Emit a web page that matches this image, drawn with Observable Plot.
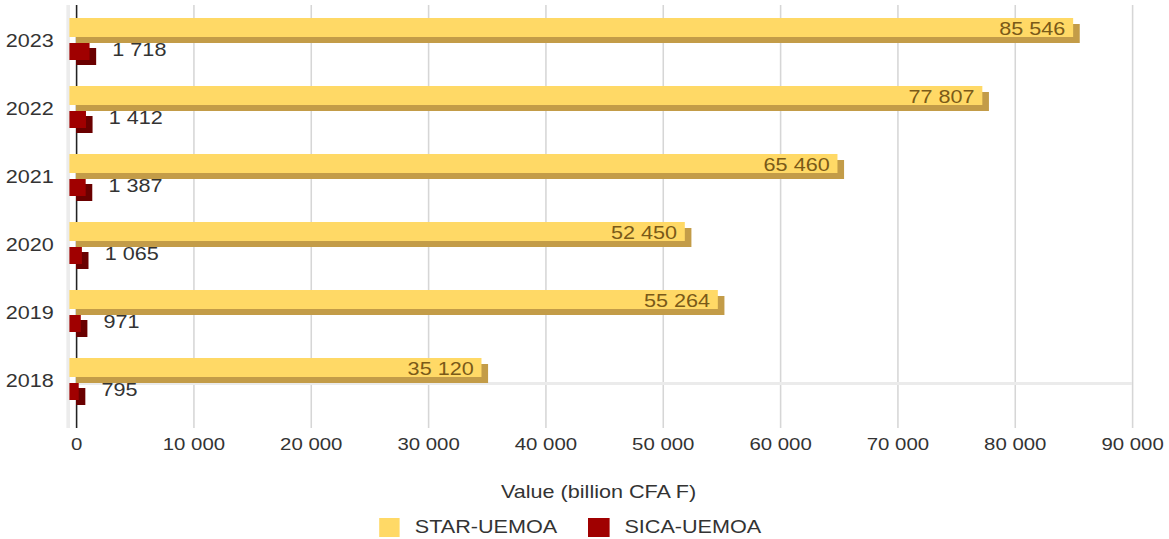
<!DOCTYPE html>
<html>
<head>
<meta charset="utf-8">
<script src="https://cdn.jsdelivr.net/npm/d3@7"></script>
<script src="https://cdn.jsdelivr.net/npm/@observablehq/plot@0.6"></script>
<style>
  html, body { margin: 0; padding: 0; background: #fff; }
  body { width: 1169px; height: 539px; overflow: hidden; font-family: "Liberation Sans", Arial, sans-serif; }
  #chart svg { display: block; }
  .legend { width: 974px; box-sizing: border-box; transform: scaleX(1.2); transform-origin: 0 0; display: flex; justify-content: center; align-items: center; height: 33px; padding-top: 11px; padding-right: 24px; font-size: 18px; color: #333; }
  .legend .item { display: flex; align-items: center; margin: 0 13px; }
  .legend .sw { width: 17.5px; height: 19px; margin-right: 12.5px; }
</style>
</head>
<body>
<div id="chart"></div>
<div class="legend" id="legend"></div>
<script>
const years = ["2023", "2022", "2021", "2020", "2019", "2018"];
const star = [85546, 77807, 65460, 52450, 55264, 35120];
const sica = [1718, 1412, 1387, 1065, 971, 795];
const xTicks = [0, 10000, 20000, 30000, 40000, 50000, 60000, 70000, 80000, 90000];
const seriesNames = ["STAR-UEMOA", "SICA-UEMOA"];
const seriesColors = ["#ffd966", "#a00000"];
const axisTitle = "Value (billion CFA F)";

const fmt = d3.formatLocale({decimal: ",", thousands: " ", grouping: [3], currency: ["", ""]}).format(",d");

const starRows = years.map((y, i) => ({year: y, value: star[i]}));
const sicaRows = years.map((y, i) => ({year: y, value: sica[i]}));

// The chart is laid out at a narrower width and stretched horizontally (1.2x), like the reference.
const stretch = 1.2;
const W = 1169, H = 505;
const innerW = W / stretch;

const plot = Plot.plot({
  width: innerW,
  height: H,
  marginLeft: 76 / stretch,
  marginRight: 37 / stretch,
  marginTop: 5,
  marginBottom: 77,
  style: {fontFamily: "Liberation Sans, Arial, sans-serif", color: "#333", background: "#fff"},
  x: {domain: [0, 90000]},
  y: {domain: years, range: [7, 415], padding: 0},
  marks: [
    Plot.ruleX([0], {dx: -7, stroke: "#ececec", strokeWidth: 3}),
    Plot.gridX(xTicks.slice(1), {stroke: "#d6d6d6", strokeWidth: 1.3, strokeOpacity: 1}),
    Plot.ruleY(["2018"], {dy: 2, stroke: "#ebebeb", strokeWidth: 3}),
    Plot.ruleX([0], {stroke: "#222", strokeWidth: 1.3}),
    // STAR shadow (3D depth)
    Plot.barX(starRows, {x1: 0, x2: "value", y: "year", insetTop: 17, insetBottom: 32, fill: "#c39c48"}),
    // STAR face
    Plot.barX(starRows, {x1: 0, x2: "value", y: "year", insetTop: 11, insetBottom: 38, dx: -5.5, fill: seriesColors[0]}),
    // SICA shadow
    Plot.barX(sicaRows, {x1: 0, x2: "value", y: "year", insetTop: 41, insetBottom: 10, fill: "#6a0000"}),
    // SICA face
    Plot.barX(sicaRows, {x1: 0, x2: "value", y: "year", insetTop: 36, insetBottom: 15, dx: -5.5, fill: seriesColors[1]}),
    Plot.text(starRows, {x: "value", y: "year", text: d => fmt(d.value), textAnchor: "end", dx: -12.5, dy: -12, fill: "#7a5a18", fontSize: 18}),
    Plot.text(sicaRows, {x: "value", y: "year", text: d => fmt(d.value), textAnchor: "start", dx: 13, dy: 9, fill: "#333", fontSize: 18}),
    Plot.axisX({ticks: xTicks, tickSize: 0, tickPadding: 9, tickFormat: fmt, fontSize: 17, label: null}),
    Plot.axisY({tickSize: 0, tickPadding: 19, fontSize: 18, label: null}),
    Plot.text([axisTitle], {frameAnchor: "bottom", lineAnchor: "middle", dy: 64, dx: -5, fontSize: 18, fill: "#333"})
  ]
});
plot.setAttribute("width", W);
plot.setAttribute("height", H);
plot.setAttribute("viewBox", `0 0 ${innerW} ${H}`);
plot.setAttribute("preserveAspectRatio", "none");
plot.style.maxWidth = "none";
plot.style.width = W + "px";
plot.style.height = H + "px";
document.getElementById("chart").appendChild(plot);

const legend = document.getElementById("legend");
seriesNames.forEach((name, i) => {
  const item = document.createElement("div");
  item.className = "item";
  const sw = document.createElement("span");
  sw.className = "sw";
  sw.style.background = seriesColors[i];
  const label = document.createElement("span");
  label.textContent = name;
  item.appendChild(sw);
  item.appendChild(label);
  legend.appendChild(item);
});
</script>
</body>
</html>
